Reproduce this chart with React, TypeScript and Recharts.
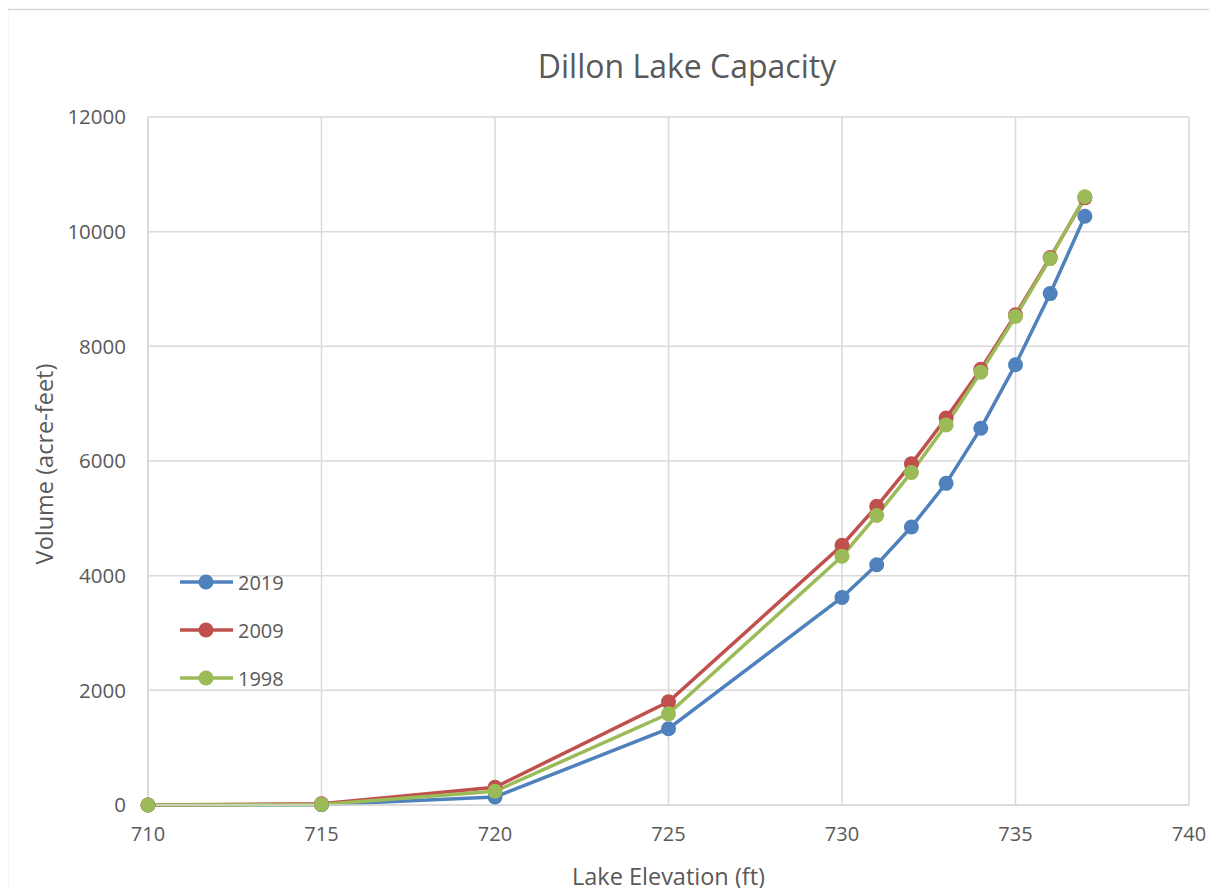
import React from 'react';
import { LineChart, Line, XAxis, YAxis, CartesianGrid, Label } from 'recharts';

// Lake elevation (ft) at each survey point
const elevations = [710, 715, 720, 725, 730, 731, 732, 733, 734, 735, 736, 737];

// Storage volume (acre-feet) by survey year
const vol2019 = [0, 5, 140, 1330, 3620, 4190, 4850, 5610, 6570, 7680, 8920, 10270];
const vol2009 = [0, 20, 310, 1800, 4530, 5210, 5950, 6750, 7600, 8550, 9550, 10590];
const vol1998 = [0, 10, 240, 1590, 4340, 5050, 5800, 6630, 7550, 8520, 9530, 10610];

const xTicks = [710, 715, 720, 725, 730, 735, 740];
const yTicks = [0, 2000, 4000, 6000, 8000, 10000, 12000];

const series = [
  { key: 'y2019', name: '2019', color: '#4F81BD' },
  { key: 'y2009', name: '2009', color: '#C0504D' },
  { key: 'y1998', name: '1998', color: '#9BBB59' },
];

const data = elevations.map((e, i) => ({
  elev: e,
  y2019: vol2019[i],
  y2009: vol2009[i],
  y1998: vol1998[i],
}));

const FONT = '"Open Sans", sans-serif';
const TEXT = '#595959';
const GRID = '#d9d9d9';

const YTitle = (props: any) => {
  const vb = props.viewBox || {};
  const cx = 36;
  const cy = vb.y + vb.height / 2 + 3;
  return (
    <text
      x={cx}
      y={cy}
      transform={`rotate(-90, ${cx}, ${cy})`}
      textAnchor="middle"
      dominantBaseline="central"
      fontFamily={FONT}
      fontSize={23.5}
      fill={TEXT}
    >
      Volume (acre-feet)
    </text>
  );
};

export default function App() {
  return (
    <div style={{ position: 'relative', width: 1209, height: 880 }}>
      <div
        style={{
          position: 'absolute',
          left: 379,
          top: 35,
          width: 600,
          textAlign: 'center',
          fontFamily: FONT,
          fontSize: 32,
          color: TEXT,
          lineHeight: '46px',
        }}
      >
        Dillon Lake Capacity
      </div>
      <LineChart
        width={1209}
        height={888}
        data={data}
        margin={{ top: 109, right: 28, left: 0, bottom: 0 }}
        style={{ position: 'absolute', left: 0, top: 0 }}
      >
        <CartesianGrid stroke={GRID} strokeWidth={1.5} />
        <XAxis
          dataKey="elev"
          type="number"
          domain={[710, 740]}
          ticks={xTicks}
          height={91}
          axisLine={{ stroke: GRID, strokeWidth: 1.5 }}
          tickLine={false}
          tickSize={0}
          tickMargin={22}
          tick={{ fontFamily: FONT, fontSize: 20, fill: TEXT }}
        >
          <Label
            value="Lake Elevation (ft)"
            position="insideBottom"
            offset={11}
            style={{ fontFamily: FONT, fontSize: 23.5, fill: TEXT }}
          />
        </XAxis>
        <YAxis
          type="number"
          domain={[0, 12000]}
          ticks={yTicks}
          width={140}
          axisLine={{ stroke: GRID, strokeWidth: 1.5 }}
          tickLine={false}
          tickSize={0}
          tickMargin={22}
          tick={{ fontFamily: FONT, fontSize: 20.5, fill: TEXT }}
        >
          <Label content={<YTitle />} />
        </YAxis>
        {series.map((s) => (
          <Line
            key={s.key}
            dataKey={s.key}
            name={s.name}
            stroke={s.color}
            strokeWidth={3.5}
            dot={{ r: 7.5, fill: s.color, stroke: s.color, strokeWidth: 0 }}
            activeDot={false}
            isAnimationActive={false}
          />
        ))}
      </LineChart>
      {/* Series key, inside the plot's lower-left area */}
      <div
        style={{
          position: 'absolute',
          left: 172,
          top: 550,
          fontFamily: FONT,
          fontSize: 20,
          color: TEXT,
        }}
      >
        {series.map((s) => (
          <div key={s.key} style={{ display: 'flex', alignItems: 'center', height: 48 }}>
            <svg width={58} height={20} style={{ overflow: 'visible' }}>
              <line x1={0} y1={10} x2={53} y2={10} stroke={s.color} strokeWidth={3.5} />
              <circle cx={26} cy={10} r={7.5} fill={s.color} />
            </svg>
            <span>{s.name}</span>
          </div>
        ))}
      </div>
      {/* Chart-area frame */}
      <svg
        width={1212}
        height={882}
        style={{ position: 'absolute', left: -2, top: 0, pointerEvents: 'none', zIndex: 2 }}
      >
        <path d="M 1.5 882 L 1.5 1.5 L 1212 1.5" fill="none" stroke={GRID} strokeWidth={1.5} />
      </svg>
    </div>
  );
}
